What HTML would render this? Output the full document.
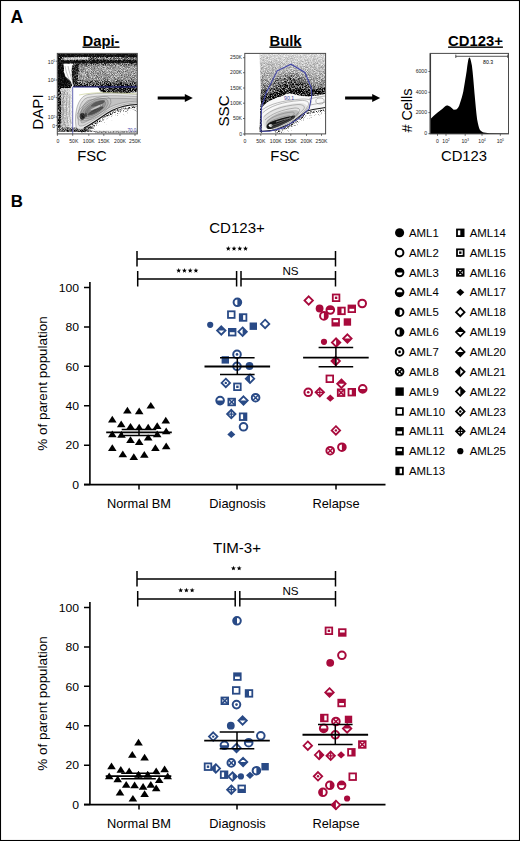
<!DOCTYPE html>
<html><head><meta charset="utf-8"><title>Figure</title>
<style>html,body{margin:0;padding:0;background:#fff;}svg{display:block;}</style>
</head><body>
<svg width="520" height="841" viewBox="0 0 520 841">
<rect x="0" y="0" width="520" height="841" fill="#fff"/>
<defs><clipPath id="clipdapi"><rect x="57.4" y="53.4" width="79.9" height="80.5"/></clipPath><clipPath id="clipbulk"><rect x="244.8" y="53.4" width="80.8" height="80.5"/></clipPath><filter id="fdapi" filterUnits="userSpaceOnUse" x="57" y="53" width="81" height="81.5" color-interpolation-filters="sRGB">
<feColorMatrix in="SourceGraphic" type="matrix" values="0 0 0 0 0  0 0 0 0 0  0 0 0 0 0  -1 0 0 0 1" result="d0"/>
<feGaussianBlur in="d0" stdDeviation="0.6" result="d"/>
<feTurbulence type="fractalNoise" baseFrequency="1.3" numOctaves="2" seed="4" result="n"/>
<feColorMatrix in="n" type="matrix" values="0 0 0 0 0  0 0 0 0 0  0 0 0 0 0  2 0 0 0 -0.5" result="na"/>
<feComposite in="d" in2="na" operator="arithmetic" k1="1.4" k2="0.3" k3="0" k4="0" result="t"/>
<feColorMatrix in="t" type="matrix" values="0 0 0 0 0  0 0 0 0 0  0 0 0 0 0  0 0 0 1 0" result="t2"/>
<feGaussianBlur in="t2" stdDeviation="0.5"/>
</filter><filter id="fdapit" filterUnits="userSpaceOnUse" x="57" y="53" width="81" height="81.5" color-interpolation-filters="sRGB">
<feColorMatrix in="SourceGraphic" type="matrix" values="0 0 0 0 0  0 0 0 0 0  0 0 0 0 0  -1 0 0 0 1" result="d0"/>
<feGaussianBlur in="d0" stdDeviation="0.6" result="d"/>
<feTurbulence type="fractalNoise" baseFrequency="1.3" numOctaves="2" seed="9" result="n"/>
<feColorMatrix in="n" type="matrix" values="0 0 0 0 0  0 0 0 0 0  0 0 0 0 0  2 0 0 0 -0.5" result="na"/>
<feComposite in="d" in2="na" operator="arithmetic" k1="0" k2="1.6" k3="-1.2" k4="-0.1" result="t"/>
<feColorMatrix in="t" type="matrix" values="0 0 0 0 0  0 0 0 0 0  0 0 0 0 0  0 0 0 1 0" result="t2"/>
<feGaussianBlur in="t2" stdDeviation="0.6"/>
</filter><filter id="fbulk" filterUnits="userSpaceOnUse" x="244.5" y="53" width="81.5" height="81.5" color-interpolation-filters="sRGB">
<feColorMatrix in="SourceGraphic" type="matrix" values="0 0 0 0 0  0 0 0 0 0  0 0 0 0 0  -1 0 0 0 1" result="d0"/>
<feGaussianBlur in="d0" stdDeviation="0.6" result="d"/>
<feTurbulence type="fractalNoise" baseFrequency="1.3" numOctaves="2" seed="7" result="n"/>
<feColorMatrix in="n" type="matrix" values="0 0 0 0 0  0 0 0 0 0  0 0 0 0 0  2 0 0 0 -0.5" result="na"/>
<feComposite in="d" in2="na" operator="arithmetic" k1="1.4" k2="0.3" k3="0" k4="0" result="t"/>
<feColorMatrix in="t" type="matrix" values="0 0 0 0 0  0 0 0 0 0  0 0 0 0 0  0 0 0 1 0" result="t2"/>
<feGaussianBlur in="t2" stdDeviation="0.5"/>
</filter><filter id="fbulkt" filterUnits="userSpaceOnUse" x="244.5" y="53" width="81.5" height="81.5" color-interpolation-filters="sRGB">
<feColorMatrix in="SourceGraphic" type="matrix" values="0 0 0 0 0  0 0 0 0 0  0 0 0 0 0  -1 0 0 0 1" result="d0"/>
<feGaussianBlur in="d0" stdDeviation="0.6" result="d"/>
<feTurbulence type="fractalNoise" baseFrequency="1.3" numOctaves="2" seed="11" result="n"/>
<feColorMatrix in="n" type="matrix" values="0 0 0 0 0  0 0 0 0 0  0 0 0 0 0  2 0 0 0 -0.5" result="na"/>
<feComposite in="d" in2="na" operator="arithmetic" k1="0" k2="1.6" k3="-1.2" k4="-0.1" result="t"/>
<feColorMatrix in="t" type="matrix" values="0 0 0 0 0  0 0 0 0 0  0 0 0 0 0  0 0 0 1 0" result="t2"/>
<feGaussianBlur in="t2" stdDeviation="0.6"/>
</filter><filter id="soft" x="-10%" y="-10%" width="120%" height="120%"><feGaussianBlur stdDeviation="0.75"/></filter><linearGradient id="dapiblk" x1="0" y1="0" x2="0" y2="1"><stop offset="0" stop-color="#666"/><stop offset="0.15" stop-color="#a0a0a0"/><stop offset="0.65" stop-color="#989898"/><stop offset="0.85" stop-color="#5a5a5a"/><stop offset="1" stop-color="#222"/></linearGradient><linearGradient id="dapils" x1="0" y1="0" x2="1" y2="0"><stop offset="0" stop-color="#b4b4b4"/><stop offset="1" stop-color="#f0f0f0"/></linearGradient><linearGradient id="dapifade" x1="0" y1="0" x2="0.25" y2="1"><stop offset="0" stop-color="#222"/><stop offset="0.45" stop-color="#888"/><stop offset="1" stop-color="#f4f4f4"/></linearGradient><linearGradient id="bulkcloud" x1="0" y1="0" x2="0" y2="1"><stop offset="0" stop-color="#d8d8d8"/><stop offset="0.45" stop-color="#a8a8a8"/><stop offset="1" stop-color="#505050"/></linearGradient><radialGradient id="bulkcore"><stop offset="0" stop-color="#1a1a1a" stop-opacity="0.85"/><stop offset="0.6" stop-color="#333" stop-opacity="0.5"/><stop offset="1" stop-color="#555" stop-opacity="0"/></radialGradient><linearGradient id="bulkfade" x1="0" y1="0" x2="0.2" y2="1"><stop offset="0" stop-color="#444"/><stop offset="0.5" stop-color="#aaa"/><stop offset="1" stop-color="#fff"/></linearGradient></defs><g clip-path="url(#clipdapi)"><g filter="url(#fdapi)"><rect x="57.4" y="53.3" width="80.0" height="80.7" fill="#fff"/><rect x="57.4" y="53.6" width="80.0" height="10" fill="#111"/><path d="M62,57.2 L92,56.8 L137.4,57.6 L137.4,60 L92,59.8 L62,60.2 Z" fill="#777"/><path d="M64,57.6 L88,57.2 L88,59.6 L64,59.8 Z" fill="#ccc"/><rect x="74.5" y="63.5" width="62.900000000000006" height="23.5" fill="url(#dapiblk)"/><path d="M74.5,63.5 L79,63.5 L77.5,87 L73,87 Z" fill="#333"/><path d="M57.4,63 L63.5,63 L63.8,72 L65,77 L71,82 L72,86 L70,89 L57.4,89 Z" fill="#111"/><path d="M75,63 L72,66 L71.5,72 L73,86 L75,87 Z" fill="#333"/><rect x="57.4" y="88" width="4" height="44" fill="#333"/><rect x="61" y="88" width="12" height="44" fill="url(#dapils)"/><path d="M57.4,127.5 L95,127.5 L88,130 L100,132 L57.4,132 Z" fill="#666"/><rect x="95" y="130.8" width="42.400000000000006" height="2.4" fill="#aaa"/><path d="M98,87 L137.4,87 L137.4,92 L120,94 L105,94 L100,91 Z" fill="#333"/></g><g filter="url(#fdapit)"><rect x="57.4" y="53.3" width="80.0" height="80.7" fill="#fff"/><path d="M80,139.5 C94,132.5 102,125.5 112,120.0 C120,116.0 130,114.3 139,114.0" fill="none" stroke="#e6e6e6" stroke-width="2.6"/><path d="M80,137 C94,130 102,123 112,117.5 C120,113.5 130,111.8 139,111.5" fill="none" stroke="#c4c4c4" stroke-width="2.6"/><path d="M80,134.6 C94,127.6 102,120.6 112,115.1 C120,111.1 130,109.39999999999999 139,109.1" fill="none" stroke="#9a9a9a" stroke-width="2.6"/><path d="M80,132.3 C94,125.3 102,118.3 112,112.8 C120,108.8 130,107.1 139,106.8" fill="none" stroke="#5a5a5a" stroke-width="2.6"/></g><rect x="57.4" y="54" width="80.0" height="2.8" fill="#111" opacity="0.75"/><rect x="57.4" y="60.4" width="80.0" height="2.8" fill="#111" opacity="0.75"/><path d="M57.4,63 L63.2,63 L63.6,71 L65.5,76.5 L70.5,81 L71.5,85.5 L57.4,86.5 Z" fill="#0a0a0a" opacity="0.75"/><path d="M74.8,63.2 L72.5,67 L72.2,76 L73,85.5 L77,86.5 L78.5,64 Z" fill="#222" opacity="0.5"/><g filter="url(#soft)"><path d="M76,127 C74,112 78,98 86,95 C98,92 120,93 139,94.5 L139,104.5 C128,105 118,107.5 110,112 C100,118 92,125 84,128.5 C80,130 77,129.5 76,127 Z" fill="#e6e6e6"/><path d="M78.5,124.5 C77,112 80,100 87.5,97.5 C99,95 120,95.5 139,96.8 L139,102.8 C128,103 117,105.5 109,110 C100,115.5 92,121.5 85,125 C81.5,126.5 79,126.5 78.5,124.5 Z" fill="#d6d6d6"/><path d="M81,122 C80,112 83,102 89.5,100 C100,97.8 118,98 139,99 L139,101.2 C126,101.2 115,104 107.5,108.5 C99.5,113 92.5,118.5 86.5,121.5 C83.5,123 81.2,123.5 81,122 Z" fill="#c2c2c2"/><ellipse cx="94" cy="108.6" rx="16" ry="7.2" transform="rotate(-30 94 108.6)" fill="#b0b0b0"/><ellipse cx="94" cy="108.6" rx="13" ry="5.6" transform="rotate(-30 94 108.6)" fill="#9a9a9a"/><ellipse cx="94" cy="108.6" rx="10" ry="4.2" transform="rotate(-30 94 108.6)" fill="#858585"/><ellipse cx="98" cy="103.4" rx="7.5" ry="2.0" transform="rotate(-20 98 103.4)" fill="#555"/><ellipse cx="95.5" cy="111" rx="9" ry="1.9" transform="rotate(-27 95.5 111)" fill="#444"/><ellipse cx="96.8" cy="107.2" rx="7" ry="0.9" transform="rotate(-24 96.8 107.2)" fill="#c8c8c8"/><ellipse cx="82.3" cy="116.3" rx="2.6" ry="3.4" fill="#1a1a1a"/><ellipse cx="85.8" cy="115" rx="1.2" ry="2.6" fill="#444"/></g><g fill="none" stroke="#6a6a6a" stroke-width="0.45" opacity="0.9"><path d="M76,127 C74,112 78,98 86,95 C98,92 120,93 139,94.5 L139,104.5 C128,105 118,107.5 110,112 C100,118 92,125 84,128.5 C80,130 77,129.5 76,127 Z"/><path d="M78.5,124.5 C77,112 80,100 87.5,97.5 C99,95 120,95.5 139,96.8 L139,102.8 C128,103 117,105.5 109,110 C100,115.5 92,121.5 85,125 C81.5,126.5 79,126.5 78.5,124.5 Z"/><path d="M81,122 C80,112 83,102 89.5,100 C100,97.8 118,98 139,99 L139,101.2 C126,101.2 115,104 107.5,108.5 C99.5,113 92.5,118.5 86.5,121.5 C83.5,123 81.2,123.5 81,122 Z"/><ellipse cx="94" cy="108.6" rx="19" ry="8.8" transform="rotate(-30 94 108.6)"/><ellipse cx="94" cy="108.6" rx="16" ry="7.2" transform="rotate(-30 94 108.6)"/><ellipse cx="94" cy="108.6" rx="13" ry="5.6" transform="rotate(-30 94 108.6)"/><ellipse cx="94" cy="108.6" rx="10" ry="4.2" transform="rotate(-30 94 108.6)"/><ellipse cx="94" cy="108.6" rx="7.5" ry="3" transform="rotate(-30 94 108.6)"/><path d="M65,66 C66,74 70,80 71,85"/><path d="M68,66 C69,72 71,76 72,80"/><path d="M64.5,92 C62,100 62.5,120 66,128"/><path d="M67.5,92 C66,100 66,118 68.5,126"/><path d="M70,94 C69,104 69,116 71,124"/></g><path d="M84,128 C94,123 102,116 112,110.5 C120,106.5 130,104.8 137.4,104.5" fill="none" stroke="#111" stroke-width="1.1"/><path d="M79,95 C95,91.5 115,92.5 137,94" fill="none" stroke="#cdd39a" stroke-width="0.7"/><path d="M72.7,134 V87 H137.4" fill="none" stroke="#4346a6" stroke-width="0.8"/><path d="M74,86.7 H137.4" fill="none" stroke="#1a1a60" stroke-width="1.1" opacity="0.85"/><text x="127.4" y="131.6" font-size="4.6" fill="#4346a6" font-family="Liberation Sans, sans-serif">70.0</text></g><g clip-path="url(#clipbulk)"><g filter="url(#fbulk)"><rect x="244.8" y="53.4" width="80.80000000000001" height="80.6" fill="#fff"/><path d="M259.5,54 L325.6,54 L325.6,94 L318,95.4 L312,96 L308.8,96.5 L302,96 L296,94.8 L292.6,93.7 L286.8,93.7 L281,96.5 L275,98.5 L269.5,101 L265,104 L261.5,108 Z" fill="url(#bulkcloud)"/><ellipse cx="291" cy="92" rx="26" ry="22" fill="url(#bulkcore)"/><ellipse cx="264" cy="97" rx="4" ry="9" fill="#333" opacity="0.45"/><path d="M261.5,108 L265,104 L269.5,101 L275,98.5 L281,96.5 L286.8,93.7 L292.6,93.7 L296,94.8 L302,96 L308.8,96.5 L312,96 L318,95.4 L325.6,94 L325.6,88 L300,89 L275,92 L261,98 Z" fill="#222"/><path d="M260.5,104 L259.5,131.5 L262,133 L263,106 Z" fill="#333"/></g><g filter="url(#fbulkt)"><rect x="244.8" y="53.4" width="80.80000000000001" height="80.6" fill="#fff"/><path d="M275,139.5 L290,133.5 L300,125.5 L307,120.5 L313,119.0 L327,117.0" fill="none" stroke="#e8e8e8" stroke-width="2.6" stroke-linejoin="round"/><path d="M275,137 L290,131 L300,123 L307,118 L313,116.5 L327,114.5" fill="none" stroke="#c8c8c8" stroke-width="2.6" stroke-linejoin="round"/><path d="M275,134.6 L290,128.6 L300,120.6 L307,115.6 L313,114.1 L327,112.1" fill="none" stroke="#9c9c9c" stroke-width="2.6" stroke-linejoin="round"/><path d="M275,132.3 L290,126.3 L300,118.3 L307,113.3 L313,111.8 L327,109.8" fill="none" stroke="#5a5a5a" stroke-width="2.6" stroke-linejoin="round"/></g><g filter="url(#soft)"><path d="M261.5,108 L265,104 L269.5,101 L275,98.5 L281,96.5 L286.8,93.7 L292.6,93.7 L296,94.8 L302,96 L308.8,96.5 L312,96 L318,95.4 L325.6,94 L325.6,107.5 L313,109.5 L307,111 L300,116 L290,124 L275,130 L262,131 Z" fill="#f8f8f8"/><path d="M263,118 C268,110 280,104 300,103 C306,103 309,106 306,110 C300,118 288,126 272,129 C266,130 262,126 263,118 Z" fill="#e4e4e4"/><path d="M266,122 C272,114 284,110 296,110 C300,111 300,114 296,117 C290,122 280,127 272,128.5 C267,129 265,126 266,122 Z" fill="#bdbdbd"/><path d="M266.5,126.5 C267,123 271,121.5 276,120 C282,118 289,116 294,115.5 C296,115.6 295.5,117.5 293,119 C288,122 280,126 273,128.5 C269,129.8 266.3,129 266.5,126.5 Z" fill="#151515"/><path d="M276,122 C281,120.3 286,118.8 291,117.8" fill="none" stroke="#8a8a8a" stroke-width="0.9"/><ellipse cx="270.6" cy="125.6" rx="1.9" ry="1.4" fill="#fff"/></g><g fill="none" stroke="#6a6a6a" stroke-width="0.5" opacity="0.9"><path d="M262.5,113 C270,106 282,102 300,100.5 C307,100 310,102 308,106 C303,115 290,124 272,130"/><path d="M263.5,117 C270,110 282,106 298,104.5 C304,104.5 306,107 303,110 C297,116 286,124 271,128.5"/><path d="M265,120 C271,114 282,109.5 295,108 C300,108 301,110 298,113 C292,119 282,125 270,127.5"/><path d="M267,121.5 C272,116.5 282,113 292,112 C295,112 295,114 292,116 C287,120 279,124 270,126"/><path d="M262,110 C270,104 282,100.5 302,99 C309,98.8 312,100 311,103 C306,114 292,124 274,131"/><path d="M268.5,123 C273,119.5 282,116.5 289,115.8 C291,115.8 291,117 289,118.5 C285,121 278,124 271,125.5"/><ellipse cx="320" cy="101" rx="4.2" ry="3"/><path d="M309,99 C314,98 320,96.5 325,96"/><path d="M310,105 C316,104 321,103 325.5,102"/></g><path d="M261,131.5 L275,130 L290,124 L300,116 L307,111 L313,109.5 L325.6,107.5" fill="none" stroke="#111" stroke-width="1"/><path d="M260.8,131.3 L261.6,107 L266,93.3 L277.2,70.8 L291,64.2 L304.9,72.5 L311.3,88 L311.8,95.3 L309.2,108.8 L298.8,118.4 L283.3,127.9 L269.4,131.3 Z" fill="none" stroke="#4346a6" stroke-width="1.1"/><text x="284" y="100.3" font-size="5.2" fill="#4346a6" font-family="Liberation Sans, sans-serif">90.1</text></g><path d="M430.2,134 L430.2,119.2 L433.8,115.8 L437.3,112.7 L442.5,108.8 C444.5,107 445.5,105.5 447,105.4 C448.2,105.3 449,106 450,106.5 L453.7,109.7 L456.3,109.4 C458,108.5 459,106.5 459.8,103.7 C461.5,99 462.5,95 463.3,91.5 C465,82 466,75 466.7,70.8 C467.6,64 468.3,58 469.3,57.6 C470.3,57.6 471,61 471.9,65.6 C473,74 473.8,85 474.5,93.3 C475.5,104 476.3,113 477.1,119.2 C478,124 479,128 479.7,129.6 C481,131.5 482.5,132.3 484,132.6 L489.2,133.3 L508.5,133.6 L508.5,134 Z" fill="#000"/><path d="M430.4,53.4 V134" stroke="#111" stroke-width="1.3"/><path d="M455.8,56.3 H507.8 M455.8,54.6 V58 M507.8,54.6 V58" stroke="#111" stroke-width="0.7" fill="none"/><text x="483" y="64.3" font-size="5.2" font-family="Liberation Sans, sans-serif">80.3</text><text x="55.2" y="63.5" text-anchor="end" font-family="Liberation Sans, sans-serif" font-size="5.1" fill="#222">10<tspan dy="-1.6" font-size="3">5</tspan></text><text x="55.2" y="82.3" text-anchor="end" font-family="Liberation Sans, sans-serif" font-size="5.1" fill="#222">10<tspan dy="-1.6" font-size="3">4</tspan></text><text x="55.2" y="99.89999999999999" text-anchor="end" font-family="Liberation Sans, sans-serif" font-size="5.1" fill="#222">10<tspan dy="-1.6" font-size="3">3</tspan></text><text x="55.2" y="119.3" text-anchor="end" font-family="Liberation Sans, sans-serif" font-size="5.1" fill="#222">10<tspan dy="-1.6" font-size="3">2</tspan></text><text x="55.2" y="127.8" text-anchor="end" font-family="Liberation Sans, sans-serif" font-size="5.1" fill="#222">0</text><text x="57.8" y="142.5" text-anchor="middle" font-family="Liberation Sans, sans-serif" font-size="5.1" fill="#222">0</text><text x="73.8" y="142.5" text-anchor="middle" font-family="Liberation Sans, sans-serif" font-size="5.1" fill="#222">50K</text><text x="88.8" y="142.5" text-anchor="middle" font-family="Liberation Sans, sans-serif" font-size="5.1" fill="#222">100K</text><text x="103.8" y="142.5" text-anchor="middle" font-family="Liberation Sans, sans-serif" font-size="5.1" fill="#222">150K</text><text x="120" y="142.5" text-anchor="middle" font-family="Liberation Sans, sans-serif" font-size="5.1" fill="#222">200K</text><text x="135" y="142.5" text-anchor="middle" font-family="Liberation Sans, sans-serif" font-size="5.1" fill="#222">250K</text><text x="242" y="59.400000000000006" text-anchor="end" font-family="Liberation Sans, sans-serif" font-size="5.1" fill="#222">250K</text><text x="242" y="74.4" text-anchor="end" font-family="Liberation Sans, sans-serif" font-size="5.1" fill="#222">200K</text><text x="242" y="89.7" text-anchor="end" font-family="Liberation Sans, sans-serif" font-size="5.1" fill="#222">150K</text><text x="242" y="104.9" text-anchor="end" font-family="Liberation Sans, sans-serif" font-size="5.1" fill="#222">100K</text><text x="242" y="120.2" text-anchor="end" font-family="Liberation Sans, sans-serif" font-size="5.1" fill="#222">50K</text><text x="242" y="135.7" text-anchor="end" font-family="Liberation Sans, sans-serif" font-size="5.1" fill="#222">0</text><text x="244.8" y="142.5" text-anchor="middle" font-family="Liberation Sans, sans-serif" font-size="5.1" fill="#222">0</text><text x="260.8" y="142.5" text-anchor="middle" font-family="Liberation Sans, sans-serif" font-size="5.1" fill="#222">50K</text><text x="275.8" y="142.5" text-anchor="middle" font-family="Liberation Sans, sans-serif" font-size="5.1" fill="#222">100K</text><text x="290.8" y="142.5" text-anchor="middle" font-family="Liberation Sans, sans-serif" font-size="5.1" fill="#222">150K</text><text x="306.5" y="142.5" text-anchor="middle" font-family="Liberation Sans, sans-serif" font-size="5.1" fill="#222">200K</text><text x="321.5" y="142.5" text-anchor="middle" font-family="Liberation Sans, sans-serif" font-size="5.1" fill="#222">250K</text><text x="427" y="73.2" text-anchor="end" font-family="Liberation Sans, sans-serif" font-size="5.1" fill="#222">6000</text><text x="427" y="94.0" text-anchor="end" font-family="Liberation Sans, sans-serif" font-size="5.1" fill="#222">4000</text><text x="427" y="114.3" text-anchor="end" font-family="Liberation Sans, sans-serif" font-size="5.1" fill="#222">2000</text><text x="427" y="135.39999999999998" text-anchor="end" font-family="Liberation Sans, sans-serif" font-size="5.1" fill="#222">0</text><text x="437.5" y="143" text-anchor="middle" font-family="Liberation Sans, sans-serif" font-size="5.1" fill="#222">0</text><text x="446" y="143" text-anchor="middle" font-family="Liberation Sans, sans-serif" font-size="5.1" fill="#222">10<tspan dy="-1.6" font-size="3">2</tspan></text><text x="465.2" y="143" text-anchor="middle" font-family="Liberation Sans, sans-serif" font-size="5.1" fill="#222">10<tspan dy="-1.6" font-size="3">3</tspan></text><text x="482" y="143" text-anchor="middle" font-family="Liberation Sans, sans-serif" font-size="5.1" fill="#222">10<tspan dy="-1.6" font-size="3">4</tspan></text><text x="500.3" y="143" text-anchor="middle" font-family="Liberation Sans, sans-serif" font-size="5.1" fill="#222">10<tspan dy="-1.6" font-size="3">5</tspan></text><path d="M55.8,61.2 H57.4 M55.8,80 H57.4 M55.8,97.6 H57.4 M55.8,117 H57.4 M55.8,125.5 H57.4 M57.4,134 V135.8 M72.7,134 V135.8 M88.8,134 V135.8 M103.8,134 V135.8 M120,134 V135.8 M135,134 V135.8 M243,57.7 H244.8 M243,72.7 H244.8 M243,88 H244.8 M243,103.2 H244.8 M243,118.5 H244.8 M243,134 H244.8 M244.8,134 V135.8 M260.8,134 V135.8 M275.8,134 V135.8 M290.8,134 V135.8 M306.5,134 V135.8 M321.5,134 V135.8 M428.4,71.5 H430.2 M428.4,92.3 H430.2 M428.4,112.6 H430.2 M428.4,133.7 H430.2 M437.5,134 V135.8 M446,134 V135.8 M465.2,134 V135.8 M482,134 V135.8 M500.3,134 V135.8" stroke="#000" stroke-width="0.6"/><g font-family="Liberation Sans, sans-serif"><text transform="translate(10.60,23.00)" font-size="17.6" font-weight="bold">A</text><text transform="translate(10.80,207.00) scale(0.97,1)" font-size="17.4" font-weight="bold">B</text><text transform="translate(101.00,45.50) scale(1.06,1)" font-size="14" text-anchor="middle" font-weight="bold" text-decoration="underline">Dapi-</text><text transform="translate(285.50,45.50) scale(1.06,1)" font-size="14" text-anchor="middle" font-weight="bold" text-decoration="underline">Bulk</text><text transform="translate(475.50,45.50) scale(1.06,1)" font-size="14" text-anchor="middle" font-weight="bold" text-decoration="underline">CD123+</text><rect x="57.3" y="53.4" width="80.00000000000001" height="80.5" fill="none" stroke="#4a4a4a" stroke-width="1"/><rect x="244.8" y="53.4" width="80.80000000000001" height="80.5" fill="none" stroke="#4a4a4a" stroke-width="1"/><rect x="430.2" y="53.4" width="78.30000000000001" height="80.5" fill="none" stroke="#4a4a4a" stroke-width="1"/><path d="M157.7,98 H186.8" stroke="#000" stroke-width="3"/><path d="M184.8,94 L192.8,98 L184.8,102 Z" fill="#000"/><path d="M345.1,98 H374.2" stroke="#000" stroke-width="3"/><path d="M372.2,94 L380.2,98 L372.2,102 Z" fill="#000"/><text transform="translate(92.00,160.50) scale(1.06,1)" font-size="14" text-anchor="middle">FSC</text><text transform="translate(285.00,160.50) scale(1.06,1)" font-size="14" text-anchor="middle">FSC</text><text transform="translate(464.00,160.80) scale(1.06,1)" font-size="14" text-anchor="middle">CD123</text><text transform="translate(43.00,112.00) rotate(-90) scale(1.08,1)" font-size="14" text-anchor="middle">DAPI</text><text transform="translate(229.00,111.00) rotate(-90) scale(1.08,1)" font-size="14" text-anchor="middle">SSC</text><text transform="translate(411.50,110.60) rotate(-90) scale(1.03,1)" font-size="14" text-anchor="middle"># Cells</text></g>
<g font-family="Liberation Sans, sans-serif"><text transform="translate(237.00,232.60) scale(1.075,1)" font-size="14" text-anchor="middle">CD123+</text><g stroke="#000" stroke-width="1.5" fill="none"><path d="M137,259.1 H335.5 M137,251 V266.5 M335.5,251 V266.5"/><path d="M137.7,278.9 H236 M241,278.9 H335.5 M137.7,271 V286.5 M335.5,271 V286.5 M236.6,271 V286.5 M241,271 V286.5"/></g><polygon points="228.28,246.05 228.92,247.71 230.70,247.81 229.32,248.94 229.77,250.66 228.28,249.70 226.78,250.66 227.23,248.94 225.85,247.81 227.63,247.71" fill="#000"/><polygon points="234.03,246.05 234.67,247.71 236.45,247.81 235.07,248.94 235.52,250.66 234.03,249.70 232.53,250.66 232.98,248.94 231.60,247.81 233.38,247.71" fill="#000"/><polygon points="239.78,246.05 240.42,247.71 242.20,247.81 240.82,248.94 241.27,250.66 239.78,249.70 238.28,250.66 238.73,248.94 237.35,247.81 239.13,247.71" fill="#000"/><polygon points="245.53,246.05 246.17,247.71 247.95,247.81 246.57,248.94 247.02,250.66 245.53,249.70 244.03,250.66 244.48,248.94 243.10,247.81 244.88,247.71" fill="#000"/><polygon points="178.68,268.05 179.32,269.71 181.10,269.81 179.72,270.94 180.17,272.66 178.68,271.70 177.18,272.66 177.63,270.94 176.25,269.81 178.03,269.71" fill="#000"/><polygon points="184.43,268.05 185.07,269.71 186.85,269.81 185.47,270.94 185.92,272.66 184.43,271.70 182.93,272.66 183.38,270.94 182.00,269.81 183.78,269.71" fill="#000"/><polygon points="190.18,268.05 190.82,269.71 192.60,269.81 191.22,270.94 191.67,272.66 190.18,271.70 188.68,272.66 189.13,270.94 187.75,269.81 189.53,269.71" fill="#000"/><polygon points="195.93,268.05 196.57,269.71 198.35,269.81 196.97,270.94 197.42,272.66 195.93,271.70 194.43,272.66 194.88,270.94 193.50,269.81 195.28,269.71" fill="#000"/><text transform="translate(290.50,274.80) scale(1.06,1)" font-size="11" text-anchor="middle">NS</text><path d="M89.9,282 V484.6 M84,484.6 H385.5" stroke="#000" stroke-width="1.6" fill="none"/><text transform="translate(79.00,488.90) scale(1.06,1)" font-size="11.5" text-anchor="end">0</text><text transform="translate(79.00,449.48) scale(1.06,1)" font-size="11.5" text-anchor="end">20</text><text transform="translate(79.00,410.06) scale(1.06,1)" font-size="11.5" text-anchor="end">40</text><text transform="translate(79.00,370.64) scale(1.06,1)" font-size="11.5" text-anchor="end">60</text><text transform="translate(79.00,331.22) scale(1.06,1)" font-size="11.5" text-anchor="end">80</text><text transform="translate(79.00,291.80) scale(1.06,1)" font-size="11.5" text-anchor="end">100</text><path d="M84,484.60 H90 M84,445.18 H90 M84,405.76 H90 M84,366.34 H90 M84,326.92 H90 M84,287.50 H90 M139,484.6 V489.5 M237,484.6 V489.5 M336,484.6 V489.5" stroke="#000" stroke-width="1.5"/><text transform="translate(139.00,507.80) scale(1.07,1)" font-size="12" text-anchor="middle">Normal BM</text><text transform="translate(237.50,507.80) scale(1.07,1)" font-size="12" text-anchor="middle">Diagnosis</text><text transform="translate(336.00,507.80) scale(1.07,1)" font-size="12" text-anchor="middle">Relapse</text><text transform="translate(46.50,383.50) rotate(-90) scale(1.05,1)" font-size="12.8" text-anchor="middle">% of parent population</text><path d="M150.8,401.9 L155.10000000000002,408.6 L146.5,408.6 Z" fill="#000"/><path d="M127.4,406.79999999999995 L131.70000000000002,413.5 L123.10000000000001,413.5 Z" fill="#000"/><path d="M139.2,407.59999999999997 L143.5,414.3 L134.89999999999998,414.3 Z" fill="#000"/><path d="M112.3,415.7 L116.6,422.40000000000003 L108.0,422.40000000000003 Z" fill="#000"/><path d="M165.8,416.79999999999995 L170.10000000000002,423.5 L161.5,423.5 Z" fill="#000"/><path d="M121.2,420.59999999999997 L125.5,427.3 L116.9,427.3 Z" fill="#000"/><path d="M130.5,422.9 L134.8,429.6 L126.2,429.6 Z" fill="#000"/><path d="M139.2,423.7 L143.5,430.40000000000003 L134.89999999999998,430.40000000000003 Z" fill="#000"/><path d="M148.2,423.7 L152.5,430.40000000000003 L143.89999999999998,430.40000000000003 Z" fill="#000"/><path d="M157.2,422.2 L161.5,428.90000000000003 L152.89999999999998,428.90000000000003 Z" fill="#000"/><path d="M166.2,427.59999999999997 L170.5,434.3 L161.89999999999998,434.3 Z" fill="#000"/><path d="M112.3,430.59999999999997 L116.6,437.3 L108.0,437.3 Z" fill="#000"/><path d="M121.5,431.09999999999997 L125.8,437.8 L117.2,437.8 Z" fill="#000"/><path d="M157.2,430.59999999999997 L161.5,437.3 L152.89999999999998,437.3 Z" fill="#000"/><path d="M130.5,436.29999999999995 L134.8,443.0 L126.2,443.0 Z" fill="#000"/><path d="M148.2,433.7 L152.5,440.40000000000003 L143.89999999999998,440.40000000000003 Z" fill="#000"/><path d="M139.2,438.29999999999995 L143.5,445.0 L134.89999999999998,445.0 Z" fill="#000"/><path d="M112.3,444.2 L116.6,450.90000000000003 L108.0,450.90000000000003 Z" fill="#000"/><path d="M155.4,444.2 L159.70000000000002,450.90000000000003 L151.1,450.90000000000003 Z" fill="#000"/><path d="M166.2,442.59999999999997 L170.5,449.3 L161.89999999999998,449.3 Z" fill="#000"/><path d="M122.8,450.59999999999997 L127.1,457.3 L118.5,457.3 Z" fill="#000"/><path d="M133.8,453.2 L138.10000000000002,459.90000000000003 L129.5,459.90000000000003 Z" fill="#000"/><path d="M144.3,451.09999999999997 L148.60000000000002,457.8 L140.0,457.8 Z" fill="#000"/><circle cx="237.4" cy="302.3" r="3.8" fill="#fff" stroke="#294a86" stroke-width="2.0"/><path d="M237.4,298.5 A3.8,3.8 0 0 1 237.4,306.1 Z" fill="#294a86"/><rect x="228.0" y="311.3" width="6.6000000000000005" height="6.6000000000000005" fill="#fff" stroke="#294a86" stroke-width="1.8"/><rect x="239.79999999999998" y="314.2" width="6.6000000000000005" height="6.6000000000000005" fill="#fff" stroke="#294a86" stroke-width="1.8"/><rect x="239.79999999999998" y="314.2" width="3.3000000000000003" height="6.6000000000000005" fill="#294a86"/><circle cx="210.2" cy="324.8" r="3.1" fill="#294a86"/><path d="M221.3,326.2726 L225.5274,330.5 L221.3,334.7274 L217.07260000000002,330.5 Z" fill="#fff" stroke="#294a86" stroke-width="1.8" stroke-linejoin="miter"/><path d="M221.3,326.2726 L225.5274,330.5 L217.07260000000002,330.5 Z" fill="#294a86"/><rect x="228.89999999999998" y="328.9" width="6.6000000000000005" height="6.6000000000000005" fill="#fff" stroke="#294a86" stroke-width="1.8"/><rect x="228.89999999999998" y="328.9" width="6.6000000000000005" height="3.3000000000000003" fill="#294a86"/><path d="M242.6,327.4726 L246.82739999999998,331.7 L242.6,335.9274 L238.3726,331.7 Z" fill="#fff" stroke="#294a86" stroke-width="1.8" stroke-linejoin="miter"/><path d="M242.6,327.4726 L246.82739999999998,331.7 L242.6,335.9274 Z" fill="#294a86"/><rect x="249.60000000000002" y="322.5" width="7.4" height="7.4" fill="#294a86"/><path d="M265.1,319.6726 L269.3274,323.9 L265.1,328.12739999999997 L260.87260000000003,323.9 Z" fill="#fff" stroke="#294a86" stroke-width="1.8" stroke-linejoin="miter"/><circle cx="237" cy="354.4" r="3.8" fill="#fff" stroke="#294a86" stroke-width="2.0"/><circle cx="237" cy="354.4" r="1.3" fill="#294a86"/><rect x="221.60000000000002" y="356.2" width="7.4" height="7.4" fill="#294a86"/><circle cx="237" cy="366.3" r="3.8" fill="#fff" stroke="#294a86" stroke-width="2.0"/><circle cx="249.5" cy="366" r="3.9" fill="#294a86"/><path d="M225.8,378.6726 L230.0274,382.9 L225.8,387.12739999999997 L221.57260000000002,382.9 Z" fill="#fff" stroke="#294a86" stroke-width="1.8" stroke-linejoin="miter"/><circle cx="225.8" cy="382.9" r="1.2" fill="#294a86"/><path d="M250,374.4726 L254.2274,378.7 L250,382.9274 L245.7726,378.7 Z" fill="#fff" stroke="#294a86" stroke-width="1.8" stroke-linejoin="miter"/><path d="M250,374.4726 L245.7726,378.7 L250,382.9274 Z" fill="#294a86"/><rect x="234.1" y="383.5" width="6.6000000000000005" height="6.6000000000000005" fill="#fff" stroke="#294a86" stroke-width="1.8"/><rect x="236.20000000000002" y="385.6" width="2.4" height="2.4" fill="#294a86"/><circle cx="220.1" cy="400.6" r="3.8" fill="#fff" stroke="#294a86" stroke-width="2.0"/><path d="M216.29999999999998,400.6 A3.8,3.8 0 0 0 223.9,400.6 Z" fill="#294a86"/><rect x="228.39999999999998" y="398.7" width="6.6000000000000005" height="6.6000000000000005" fill="#fff" stroke="#294a86" stroke-width="1.8"/><path d="M228.39999999999998,398.7 L235.0,405.3 M235.0,398.7 L228.39999999999998,405.3" stroke="#294a86" stroke-width="1.6"/><path d="M243.5,396.37260000000003 L247.7274,400.6 L243.5,404.8274 L239.2726,400.6 Z" fill="#fff" stroke="#294a86" stroke-width="1.8" stroke-linejoin="miter"/><path d="M243.5,404.8274 L247.7274,400.6 L239.2726,400.6 Z" fill="#294a86"/><circle cx="255.6" cy="397.7" r="3.8" fill="#fff" stroke="#294a86" stroke-width="2.0"/><path d="M252.864,394.964 L258.336,400.436 M258.336,394.964 L252.864,400.436" stroke="#294a86" stroke-width="1.5"/><path d="M231.3,409.87260000000003 L235.5274,414.1 L231.3,418.3274 L227.07260000000002,414.1 Z" fill="#fff" stroke="#294a86" stroke-width="1.8" stroke-linejoin="miter"/><path d="M231.3,409.87260000000003 L231.3,418.3274 M227.07260000000002,414.1 L235.5274,414.1" stroke="#294a86" stroke-width="1.3"/><rect x="239.79999999999998" y="413.4" width="6.6000000000000005" height="6.6000000000000005" fill="#fff" stroke="#294a86" stroke-width="1.8"/><rect x="243.1" y="413.4" width="3.3000000000000003" height="6.6000000000000005" fill="#294a86"/><circle cx="243.5" cy="426.8" r="3.8" fill="#fff" stroke="#294a86" stroke-width="2.0"/><path d="M231.3,430.75 L235.3,434.4 L231.3,438.04999999999995 L227.3,434.4 Z" fill="#294a86"/><path d="M308.7,296.2726 L312.9274,300.5 L308.7,304.7274 L304.4726,300.5 Z" fill="#fff" stroke="#a80a3c" stroke-width="1.8" stroke-linejoin="miter"/><rect x="332.8" y="294.5" width="6.6000000000000005" height="6.6000000000000005" fill="#fff" stroke="#a80a3c" stroke-width="1.8"/><rect x="334.90000000000003" y="296.6" width="2.4" height="2.4" fill="#a80a3c"/><circle cx="362.2" cy="303.5" r="3.8" fill="#fff" stroke="#a80a3c" stroke-width="2.0"/><circle cx="319.6" cy="308.5" r="3.9" fill="#a80a3c"/><circle cx="330.3" cy="310" r="3.8" fill="#fff" stroke="#a80a3c" stroke-width="2.0"/><path d="M326.5,310 A3.8,3.8 0 0 1 334.1,310 Z" fill="#a80a3c"/><circle cx="323.9" cy="315.9" r="3.8" fill="#fff" stroke="#a80a3c" stroke-width="2.0"/><path d="M323.9,312.09999999999997 A3.8,3.8 0 0 1 323.9,319.7 Z" fill="#a80a3c"/><rect x="338.2" y="307.59999999999997" width="6.6000000000000005" height="6.6000000000000005" fill="#fff" stroke="#a80a3c" stroke-width="1.8"/><rect x="338.2" y="307.59999999999997" width="3.3000000000000003" height="6.6000000000000005" fill="#a80a3c"/><rect x="348.5" y="305.5" width="6.6000000000000005" height="6.6000000000000005" fill="#fff" stroke="#a80a3c" stroke-width="1.8"/><rect x="348.5" y="305.5" width="6.6000000000000005" height="3.3000000000000003" fill="#a80a3c"/><rect x="332.4" y="319.0" width="6.6000000000000005" height="6.6000000000000005" fill="#fff" stroke="#a80a3c" stroke-width="1.8"/><rect x="332.4" y="322.3" width="6.6000000000000005" height="3.3000000000000003" fill="#a80a3c"/><rect x="343.7" y="318.3" width="7.4" height="7.4" fill="#a80a3c"/><circle cx="324" cy="341.8" r="3.1" fill="#a80a3c"/><path d="M336.1,338.2726 L340.3274,342.5 L336.1,346.7274 L331.87260000000003,342.5 Z" fill="#fff" stroke="#a80a3c" stroke-width="1.8" stroke-linejoin="miter"/><path d="M336.1,338.2726 L340.3274,342.5 L336.1,346.7274 Z" fill="#a80a3c"/><path d="M347.4,334.2726 L351.62739999999997,338.5 L347.4,342.7274 L343.1726,338.5 Z" fill="#fff" stroke="#a80a3c" stroke-width="1.8" stroke-linejoin="miter"/><path d="M347.4,342.7274 L351.62739999999997,338.5 L343.1726,338.5 Z" fill="#a80a3c"/><path d="M335.7,356.7726 L339.9274,361 L335.7,365.2274 L331.4726,361 Z" fill="#fff" stroke="#a80a3c" stroke-width="1.8" stroke-linejoin="miter"/><path d="M335.7,356.7726 L331.4726,361 L335.7,365.2274 Z" fill="#a80a3c"/><rect x="326.5" y="375.5" width="6.6000000000000005" height="6.6000000000000005" fill="#fff" stroke="#a80a3c" stroke-width="1.8"/><path d="M341.4,379.4726 L345.62739999999997,383.7 L341.4,387.9274 L337.1726,383.7 Z" fill="#fff" stroke="#a80a3c" stroke-width="1.8" stroke-linejoin="miter"/><path d="M341.4,379.4726 L345.62739999999997,383.7 L337.1726,383.7 Z" fill="#a80a3c"/><circle cx="308.2" cy="392.3" r="3.8" fill="#fff" stroke="#a80a3c" stroke-width="2.0"/><circle cx="308.2" cy="392.3" r="1.3" fill="#a80a3c"/><path d="M319.8,388.0726 L324.0274,392.3 L319.8,396.5274 L315.5726,392.3 Z" fill="#fff" stroke="#a80a3c" stroke-width="1.8" stroke-linejoin="miter"/><path d="M319.8,388.0726 L319.8,396.5274 M315.5726,392.3 L324.0274,392.3" stroke="#a80a3c" stroke-width="1.3"/><path d="M330.3,394.55 L334.3,398.2 L330.3,401.84999999999997 L326.3,398.2 Z" fill="#a80a3c"/><rect x="337.8" y="389.4" width="6.6000000000000005" height="6.6000000000000005" fill="#fff" stroke="#a80a3c" stroke-width="1.8"/><path d="M337.8,389.4 L344.40000000000003,396.0 M344.40000000000003,389.4 L337.8,396.0" stroke="#a80a3c" stroke-width="1.6"/><rect x="348.5" y="388.9" width="6.6000000000000005" height="6.6000000000000005" fill="#fff" stroke="#a80a3c" stroke-width="1.8"/><rect x="351.8" y="388.9" width="3.3000000000000003" height="6.6000000000000005" fill="#a80a3c"/><circle cx="362.7" cy="388.9" r="3.8" fill="#fff" stroke="#a80a3c" stroke-width="2.0"/><path d="M358.9,388.9 A3.8,3.8 0 0 0 366.5,388.9 Z" fill="#a80a3c"/><path d="M335.9,426.1726 L340.12739999999997,430.4 L335.9,434.62739999999997 L331.6726,430.4 Z" fill="#fff" stroke="#a80a3c" stroke-width="1.8" stroke-linejoin="miter"/><circle cx="335.9" cy="430.4" r="1.2" fill="#a80a3c"/><circle cx="341.9" cy="447.2" r="3.8" fill="#fff" stroke="#a80a3c" stroke-width="2.0"/><path d="M341.9,443.4 A3.8,3.8 0 0 1 341.9,451.0 Z" fill="#a80a3c"/><circle cx="330.2" cy="450.7" r="3.8" fill="#fff" stroke="#a80a3c" stroke-width="2.0"/><path d="M327.464,447.964 L332.936,453.436 M332.936,447.964 L327.464,453.436" stroke="#a80a3c" stroke-width="1.5"/><rect x="123" y="430.09999999999997" width="32" height="4.6" fill="#fff"/><path d="M121.7,429.4 H156.3 M121.7,435.4 H156.3 M139,429.4 V435.4" stroke="#000" stroke-width="1.5" fill="none"/><path d="M106.2,432.4 H171.8" stroke="#000" stroke-width="1.9" fill="none"/><path d="M220.0,357.8 H254.60000000000002 M220.0,374.6 H254.60000000000002 M237.3,357.8 V374.6" stroke="#000" stroke-width="1.5" fill="none"/><path d="M204.5,366.5 H270.1" stroke="#000" stroke-width="1.9" fill="none"/><path d="M318.59999999999997,347.6 H353.2 M318.59999999999997,366.7 H353.2 M335.9,347.6 V366.7" stroke="#000" stroke-width="1.5" fill="none"/><path d="M303.09999999999997,357.6 H368.7" stroke="#000" stroke-width="1.9" fill="none"/></g>
<g font-family="Liberation Sans, sans-serif"><text transform="translate(237.00,552.60) scale(1.075,1)" font-size="14" text-anchor="middle">TIM-3+</text><g stroke="#000" stroke-width="1.5" fill="none"><path d="M137,579.1 H335.5 M137,571 V586.5 M335.5,571 V586.5"/><path d="M137.7,598.9 H234.7 M239.7,598.9 H335.5 M137.7,591 V606.5 M335.5,591 V606.5 M235.2,591 V606.5 M239.8,591 V606.5"/></g><polygon points="233.43,565.75 234.07,567.41 235.85,567.51 234.47,568.64 234.92,570.36 233.43,569.40 231.93,570.36 232.38,568.64 231.00,567.51 232.78,567.41" fill="#000"/><polygon points="239.18,565.75 239.82,567.41 241.60,567.51 240.22,568.64 240.67,570.36 239.18,569.40 237.68,570.36 238.13,568.64 236.75,567.51 238.53,567.41" fill="#000"/><polygon points="180.65,587.75 181.30,589.41 183.08,589.51 181.70,590.64 182.15,592.36 180.65,591.40 179.15,592.36 179.60,590.64 178.22,589.51 180.00,589.41" fill="#000"/><polygon points="186.40,587.75 187.05,589.41 188.83,589.51 187.45,590.64 187.90,592.36 186.40,591.40 184.90,592.36 185.35,590.64 183.97,589.51 185.75,589.41" fill="#000"/><polygon points="192.15,587.75 192.80,589.41 194.58,589.51 193.20,590.64 193.65,592.36 192.15,591.40 190.65,592.36 191.10,590.64 189.72,589.51 191.50,589.41" fill="#000"/><text transform="translate(290.50,594.80) scale(1.06,1)" font-size="11" text-anchor="middle">NS</text><path d="M89.9,602 V804.6 M84,804.6 H385.5" stroke="#000" stroke-width="1.6" fill="none"/><text transform="translate(79.00,808.90) scale(1.06,1)" font-size="11.5" text-anchor="end">0</text><text transform="translate(79.00,769.48) scale(1.06,1)" font-size="11.5" text-anchor="end">20</text><text transform="translate(79.00,730.06) scale(1.06,1)" font-size="11.5" text-anchor="end">40</text><text transform="translate(79.00,690.64) scale(1.06,1)" font-size="11.5" text-anchor="end">60</text><text transform="translate(79.00,651.22) scale(1.06,1)" font-size="11.5" text-anchor="end">80</text><text transform="translate(79.00,611.80) scale(1.06,1)" font-size="11.5" text-anchor="end">100</text><path d="M84,804.60 H90 M84,765.18 H90 M84,725.76 H90 M84,686.34 H90 M84,646.92 H90 M84,607.50 H90 M139,804.6 V809.5 M237,804.6 V809.5 M336,804.6 V809.5" stroke="#000" stroke-width="1.5"/><text transform="translate(139.00,827.80) scale(1.07,1)" font-size="12" text-anchor="middle">Normal BM</text><text transform="translate(237.50,827.80) scale(1.07,1)" font-size="12" text-anchor="middle">Diagnosis</text><text transform="translate(336.00,827.80) scale(1.07,1)" font-size="12" text-anchor="middle">Relapse</text><text transform="translate(46.50,703.50) rotate(-90) scale(1.05,1)" font-size="12.8" text-anchor="middle">% of parent population</text><path d="M138.5,738.6999999999999 L142.8,745.4 L134.2,745.4 Z" fill="#000"/><path d="M132.3,751.0 L136.60000000000002,757.7 L128.0,757.7 Z" fill="#000"/><path d="M144.6,753.8 L148.9,760.5 L140.29999999999998,760.5 Z" fill="#000"/><path d="M111.5,762.6 L115.8,769.3000000000001 L107.2,769.3000000000001 Z" fill="#000"/><path d="M120.8,766.1 L125.1,772.8000000000001 L116.5,772.8000000000001 Z" fill="#000"/><path d="M129.2,767.6 L133.5,774.3000000000001 L124.89999999999999,774.3000000000001 Z" fill="#000"/><path d="M156.2,767.6 L160.5,774.3000000000001 L151.89999999999998,774.3000000000001 Z" fill="#000"/><path d="M164.6,765.6 L168.9,772.3000000000001 L160.29999999999998,772.3000000000001 Z" fill="#000"/><path d="M109.2,772.6 L113.5,779.3000000000001 L104.9,779.3000000000001 Z" fill="#000"/><path d="M138.5,771.0 L142.8,777.7 L134.2,777.7 Z" fill="#000"/><path d="M147.7,771.0 L152.0,777.7 L143.39999999999998,777.7 Z" fill="#000"/><path d="M167.7,772.6 L172.0,779.3000000000001 L163.39999999999998,779.3000000000001 Z" fill="#000"/><path d="M117.7,775.6 L122.0,782.3000000000001 L113.4,782.3000000000001 Z" fill="#000"/><path d="M159.2,776.4 L163.5,783.1 L154.89999999999998,783.1 Z" fill="#000"/><path d="M126.2,781.0 L130.5,787.7 L121.9,787.7 Z" fill="#000"/><path d="M134.6,781.5 L138.9,788.2 L130.29999999999998,788.2 Z" fill="#000"/><path d="M143.1,783.0 L147.4,789.7 L138.79999999999998,789.7 Z" fill="#000"/><path d="M150.8,781.0 L155.10000000000002,787.7 L146.5,787.7 Z" fill="#000"/><path d="M156.2,784.6 L160.5,791.3000000000001 L151.89999999999998,791.3000000000001 Z" fill="#000"/><path d="M120,788.6999999999999 L124.3,795.4 L115.7,795.4 Z" fill="#000"/><path d="M144.6,790.1999999999999 L148.9,796.9 L140.29999999999998,796.9 Z" fill="#000"/><path d="M132.9,794.9 L137.20000000000002,801.6 L128.6,801.6 Z" fill="#000"/><circle cx="237" cy="620.8" r="3.8" fill="#fff" stroke="#294a86" stroke-width="2.0"/><path d="M237,617.0 A3.8,3.8 0 0 0 237,624.5999999999999 Z" fill="#294a86"/><rect x="234.1" y="673.3000000000001" width="6.6000000000000005" height="6.6000000000000005" fill="#fff" stroke="#294a86" stroke-width="1.8"/><rect x="234.1" y="673.3000000000001" width="6.6000000000000005" height="3.3000000000000003" fill="#294a86"/><rect x="232.89999999999998" y="687.1" width="6.6000000000000005" height="6.6000000000000005" fill="#fff" stroke="#294a86" stroke-width="1.8"/><rect x="245.7" y="690.1" width="6.6000000000000005" height="6.6000000000000005" fill="#fff" stroke="#294a86" stroke-width="1.8"/><rect x="245.7" y="690.1" width="3.3000000000000003" height="6.6000000000000005" fill="#294a86"/><rect x="221.5" y="697.5" width="6.6000000000000005" height="6.6000000000000005" fill="#fff" stroke="#294a86" stroke-width="1.8"/><path d="M221.5,697.5 L228.10000000000002,704.0999999999999 M228.10000000000002,697.5 L221.5,704.0999999999999" stroke="#294a86" stroke-width="1.6"/><circle cx="236.5" cy="704.6" r="3.8" fill="#fff" stroke="#294a86" stroke-width="2.0"/><circle cx="236.5" cy="704.6" r="1.3" fill="#294a86"/><path d="M242.6,716.2726 L246.82739999999998,720.5 L242.6,724.7274 L238.3726,720.5 Z" fill="#fff" stroke="#294a86" stroke-width="1.8" stroke-linejoin="miter"/><path d="M242.6,716.2726 L246.82739999999998,720.5 L238.3726,720.5 Z" fill="#294a86"/><circle cx="230.8" cy="725.7" r="3.9" fill="#294a86"/><path d="M213.2,732.3726 L217.42739999999998,736.6 L213.2,740.8274 L208.9726,736.6 Z" fill="#fff" stroke="#294a86" stroke-width="1.8" stroke-linejoin="miter"/><circle cx="213.2" cy="736.6" r="1.2" fill="#294a86"/><circle cx="260.8" cy="735.8" r="3.8" fill="#fff" stroke="#294a86" stroke-width="2.0"/><circle cx="224.4" cy="745.3" r="3.8" fill="#fff" stroke="#294a86" stroke-width="2.0"/><path d="M220.6,745.3 A3.8,3.8 0 0 0 228.20000000000002,745.3 Z" fill="#294a86"/><path d="M236.5,743.6726 L240.7274,747.9 L236.5,752.1274 L232.2726,747.9 Z" fill="#fff" stroke="#294a86" stroke-width="1.8" stroke-linejoin="miter"/><path d="M236.5,752.1274 L240.7274,747.9 L232.2726,747.9 Z" fill="#294a86"/><circle cx="248.7" cy="742.7" r="3.8" fill="#fff" stroke="#294a86" stroke-width="2.0"/><path d="M244.89999999999998,742.7 A3.8,3.8 0 0 1 252.5,742.7 Z" fill="#294a86"/><circle cx="231.3" cy="762.9" r="3.8" fill="#fff" stroke="#294a86" stroke-width="2.0"/><path d="M228.56400000000002,760.164 L234.036,765.636 M234.036,760.164 L228.56400000000002,765.636" stroke="#294a86" stroke-width="1.5"/><path d="M243.1,757.7726 L247.32739999999998,762 L243.1,766.2274 L238.8726,762 Z" fill="#fff" stroke="#294a86" stroke-width="1.8" stroke-linejoin="miter"/><path d="M243.1,766.2274 L247.32739999999998,762 L238.8726,762 Z" fill="#294a86"/><rect x="204.7" y="763.4000000000001" width="6.6000000000000005" height="6.6000000000000005" fill="#fff" stroke="#294a86" stroke-width="1.8"/><rect x="206.8" y="765.5" width="2.4" height="2.4" fill="#294a86"/><path d="M215.8,764.1726 L220.0274,768.4 L215.8,772.6274 L211.57260000000002,768.4 Z" fill="#fff" stroke="#294a86" stroke-width="1.8" stroke-linejoin="miter"/><path d="M215.8,764.1726 L211.57260000000002,768.4 L215.8,772.6274 Z" fill="#294a86"/><rect x="220.79999999999998" y="771.4000000000001" width="6.6000000000000005" height="6.6000000000000005" fill="#fff" stroke="#294a86" stroke-width="1.8"/><rect x="224.1" y="771.4000000000001" width="3.3000000000000003" height="6.6000000000000005" fill="#294a86"/><path d="M232.6,772.3726 L236.82739999999998,776.6 L232.6,780.8274 L228.3726,776.6 Z" fill="#fff" stroke="#294a86" stroke-width="1.8" stroke-linejoin="miter"/><path d="M232.6,772.3726 L236.82739999999998,776.6 L232.6,780.8274 Z" fill="#294a86"/><circle cx="240.9" cy="776.4" r="3.1" fill="#294a86"/><path d="M250,771.65 L254.0,775.3 L250,778.9499999999999 L246.0,775.3 Z" fill="#294a86"/><circle cx="256.4" cy="770.7" r="3.8" fill="#fff" stroke="#294a86" stroke-width="2.0"/><path d="M256.4,766.9000000000001 A3.8,3.8 0 0 1 256.4,774.5 Z" fill="#294a86"/><rect x="261.40000000000003" y="763.0" width="7.4" height="7.4" fill="#294a86"/><path d="M231.3,785.4726 L235.5274,789.7 L231.3,793.9274 L227.07260000000002,789.7 Z" fill="#fff" stroke="#294a86" stroke-width="1.8" stroke-linejoin="miter"/><path d="M231.3,785.4726 L231.3,793.9274 M227.07260000000002,789.7 L235.5274,789.7" stroke="#294a86" stroke-width="1.3"/><rect x="238.39999999999998" y="785.5" width="6.6000000000000005" height="6.6000000000000005" fill="#fff" stroke="#294a86" stroke-width="1.8"/><rect x="238.39999999999998" y="788.8" width="6.6000000000000005" height="3.3000000000000003" fill="#294a86"/><rect x="325.59999999999997" y="627.5" width="6.6000000000000005" height="6.6000000000000005" fill="#fff" stroke="#a80a3c" stroke-width="1.8"/><rect x="327.7" y="629.5999999999999" width="2.4" height="2.4" fill="#a80a3c"/><rect x="339.0" y="629.2" width="6.6000000000000005" height="6.6000000000000005" fill="#fff" stroke="#a80a3c" stroke-width="1.8"/><rect x="339.0" y="632.5" width="6.6000000000000005" height="3.3000000000000003" fill="#a80a3c"/><circle cx="341.9" cy="655.3" r="3.8" fill="#fff" stroke="#a80a3c" stroke-width="2.0"/><circle cx="330.2" cy="662.8" r="3.9" fill="#a80a3c"/><path d="M329.5,688.1726 L333.7274,692.4 L329.5,696.6274 L325.2726,692.4 Z" fill="#fff" stroke="#a80a3c" stroke-width="1.8" stroke-linejoin="miter"/><path d="M329.5,696.6274 L333.7274,692.4 L325.2726,692.4 Z" fill="#a80a3c"/><rect x="338.3" y="699.7" width="6.6000000000000005" height="6.6000000000000005" fill="#fff" stroke="#a80a3c" stroke-width="1.8"/><rect x="338.3" y="699.7" width="6.6000000000000005" height="3.3000000000000003" fill="#a80a3c"/><rect x="321.0" y="714.7" width="6.6000000000000005" height="6.6000000000000005" fill="#fff" stroke="#a80a3c" stroke-width="1.8"/><rect x="321.0" y="714.7" width="3.3000000000000003" height="6.6000000000000005" fill="#a80a3c"/><circle cx="335.9" cy="721.5" r="3.8" fill="#fff" stroke="#a80a3c" stroke-width="2.0"/><path d="M333.164,718.764 L338.63599999999997,724.236 M338.63599999999997,718.764 L333.164,724.236" stroke="#a80a3c" stroke-width="1.5"/><rect x="344.8" y="715.6999999999999" width="7.4" height="7.4" fill="#a80a3c"/><circle cx="323.7" cy="728.4" r="3.8" fill="#fff" stroke="#a80a3c" stroke-width="2.0"/><path d="M319.9,728.4 A3.8,3.8 0 0 0 327.5,728.4 Z" fill="#a80a3c"/><path d="M347.1,724.1726 L351.3274,728.4 L347.1,732.6274 L342.87260000000003,728.4 Z" fill="#fff" stroke="#a80a3c" stroke-width="1.8" stroke-linejoin="miter"/><path d="M347.1,724.1726 L351.3274,728.4 L342.87260000000003,728.4 Z" fill="#a80a3c"/><circle cx="335.3" cy="734.8" r="3.8" fill="#fff" stroke="#a80a3c" stroke-width="2.0"/><path d="M307.8,741.4726 L312.0274,745.7 L307.8,749.9274 L303.5726,745.7 Z" fill="#fff" stroke="#a80a3c" stroke-width="1.8" stroke-linejoin="miter"/><path d="M319.1,750.6726 L323.3274,754.9 L319.1,759.1274 L314.87260000000003,754.9 Z" fill="#fff" stroke="#a80a3c" stroke-width="1.8" stroke-linejoin="miter"/><path d="M319.1,750.6726 L323.3274,754.9 L319.1,759.1274 Z" fill="#a80a3c"/><path d="M330.7,751.5726 L334.9274,755.8 L330.7,760.0274 L326.4726,755.8 Z" fill="#fff" stroke="#a80a3c" stroke-width="1.8" stroke-linejoin="miter"/><path d="M330.7,751.5726 L330.7,760.0274 M326.4726,755.8 L334.9274,755.8" stroke="#a80a3c" stroke-width="1.3"/><path d="M341.1,751.25 L345.1,754.9 L341.1,758.55 L337.1,754.9 Z" fill="#a80a3c"/><rect x="348.09999999999997" y="749.0" width="6.6000000000000005" height="6.6000000000000005" fill="#fff" stroke="#a80a3c" stroke-width="1.8"/><rect x="351.4" y="749.0" width="3.3000000000000003" height="6.6000000000000005" fill="#a80a3c"/><rect x="359.0" y="741.2" width="6.6000000000000005" height="6.6000000000000005" fill="#fff" stroke="#a80a3c" stroke-width="1.8"/><path d="M359.0,741.2 L365.6,747.8 M365.6,741.2 L359.0,747.8" stroke="#a80a3c" stroke-width="1.6"/><path d="M318,772.0726 L322.2274,776.3 L318,780.5274 L313.7726,776.3 Z" fill="#fff" stroke="#a80a3c" stroke-width="1.8" stroke-linejoin="miter"/><circle cx="318" cy="776.3" r="1.2" fill="#a80a3c"/><rect x="349.4" y="773.4000000000001" width="6.6000000000000005" height="6.6000000000000005" fill="#fff" stroke="#a80a3c" stroke-width="1.8"/><circle cx="329.8" cy="785.3" r="3.8" fill="#fff" stroke="#a80a3c" stroke-width="2.0"/><path d="M329.8,781.5 A3.8,3.8 0 0 1 329.8,789.0999999999999 Z" fill="#a80a3c"/><circle cx="341.6" cy="785.3" r="3.8" fill="#fff" stroke="#a80a3c" stroke-width="2.0"/><path d="M337.8,785.3 A3.8,3.8 0 0 1 345.40000000000003,785.3 Z" fill="#a80a3c"/><circle cx="322.9" cy="792.3" r="3.8" fill="#fff" stroke="#a80a3c" stroke-width="2.0"/><path d="M322.9,788.5 A3.8,3.8 0 0 0 322.9,796.0999999999999 Z" fill="#a80a3c"/><circle cx="347.1" cy="798.5" r="3.1" fill="#a80a3c"/><path d="M335.9,800.6726 L340.12739999999997,804.9 L335.9,809.1274 L331.6726,804.9 Z" fill="#fff" stroke="#a80a3c" stroke-width="1.8" stroke-linejoin="miter"/><path d="M335.9,800.6726 L331.6726,804.9 L335.9,809.1274 Z" fill="#a80a3c"/><rect x="122.5" y="774.0" width="32" height="4.000000000000091" fill="#fff"/><path d="M121.2,773.3 H155.8 M121.2,778.7 H155.8 M138.5,773.3 V778.7" stroke="#000" stroke-width="1.5" fill="none"/><path d="M105.7,776.1 H171.3" stroke="#000" stroke-width="1.9" fill="none"/><path d="M219.7,732 H254.3 M219.7,748.7 H254.3 M237,732 V748.7" stroke="#000" stroke-width="1.5" fill="none"/><path d="M204.2,740.6 H269.8" stroke="#000" stroke-width="1.9" fill="none"/><path d="M318.0,724.6 H352.6 M318.0,744.5 H352.6 M335.3,724.6 V744.5" stroke="#000" stroke-width="1.5" fill="none"/><path d="M302.5,734.7 H368.1" stroke="#000" stroke-width="1.9" fill="none"/><path d="M138.5,771.0 L142.8,777.7 L134.2,777.7 Z" fill="#000"/><path d="M147.7,771.0 L152.0,777.7 L143.39999999999998,777.7 Z" fill="#000"/></g>
<g font-family="Liberation Sans, sans-serif" font-size="11.2"><circle cx="399.6" cy="232.8" r="4.55" fill="#000"/><text transform="translate(409.00,236.90) scale(1.02,1)" font-size="11.2">AML1</text><circle cx="399.6" cy="252.65" r="3.8" fill="#fff" stroke="#000" stroke-width="2.0"/><text transform="translate(409.00,256.75) scale(1.02,1)" font-size="11.2">AML2</text><circle cx="399.6" cy="272.5" r="3.8" fill="#fff" stroke="#000" stroke-width="2.0"/><path d="M395.8,272.5 A3.8,3.8 0 0 1 403.40000000000003,272.5 Z" fill="#000"/><text transform="translate(409.00,276.60) scale(1.02,1)" font-size="11.2">AML3</text><circle cx="399.6" cy="292.35" r="3.8" fill="#fff" stroke="#000" stroke-width="2.0"/><path d="M395.8,292.35 A3.8,3.8 0 0 0 403.40000000000003,292.35 Z" fill="#000"/><text transform="translate(409.00,296.45) scale(1.02,1)" font-size="11.2">AML4</text><circle cx="399.6" cy="312.2" r="3.8" fill="#fff" stroke="#000" stroke-width="2.0"/><path d="M399.6,308.4 A3.8,3.8 0 0 0 399.6,316.0 Z" fill="#000"/><text transform="translate(409.00,316.30) scale(1.02,1)" font-size="11.2">AML5</text><circle cx="399.6" cy="332.05" r="3.8" fill="#fff" stroke="#000" stroke-width="2.0"/><path d="M399.6,328.25 A3.8,3.8 0 0 1 399.6,335.85 Z" fill="#000"/><text transform="translate(409.00,336.15) scale(1.02,1)" font-size="11.2">AML6</text><circle cx="399.6" cy="351.9" r="3.8" fill="#fff" stroke="#000" stroke-width="2.0"/><circle cx="399.6" cy="351.9" r="1.3" fill="#000"/><text transform="translate(409.00,356.00) scale(1.02,1)" font-size="11.2">AML7</text><circle cx="399.6" cy="371.75" r="3.8" fill="#fff" stroke="#000" stroke-width="2.0"/><path d="M396.86400000000003,369.014 L402.336,374.486 M402.336,369.014 L396.86400000000003,374.486" stroke="#000" stroke-width="1.5"/><text transform="translate(409.00,375.85) scale(1.02,1)" font-size="11.2">AML8</text><rect x="395.40000000000003" y="387.40000000000003" width="8.4" height="8.4" fill="#000"/><text transform="translate(409.00,395.70) scale(1.02,1)" font-size="11.2">AML9</text><rect x="396.3" y="408.15" width="6.6000000000000005" height="6.6000000000000005" fill="#fff" stroke="#000" stroke-width="1.8"/><text transform="translate(409.00,415.55) scale(1.02,1)" font-size="11.2">AML10</text><rect x="396.3" y="428.0" width="6.6000000000000005" height="6.6000000000000005" fill="#fff" stroke="#000" stroke-width="1.8"/><rect x="396.3" y="428.0" width="6.6000000000000005" height="3.3000000000000003" fill="#000"/><text transform="translate(409.00,435.40) scale(1.02,1)" font-size="11.2">AML11</text><rect x="396.3" y="447.84999999999997" width="6.6000000000000005" height="6.6000000000000005" fill="#fff" stroke="#000" stroke-width="1.8"/><rect x="396.3" y="451.15" width="6.6000000000000005" height="3.3000000000000003" fill="#000"/><text transform="translate(409.00,455.25) scale(1.02,1)" font-size="11.2">AML12</text><rect x="396.3" y="467.7" width="6.6000000000000005" height="6.6000000000000005" fill="#fff" stroke="#000" stroke-width="1.8"/><rect x="396.3" y="467.7" width="3.3000000000000003" height="6.6000000000000005" fill="#000"/><text transform="translate(409.00,475.10) scale(1.02,1)" font-size="11.2">AML13</text><rect x="457.0" y="229.5" width="6.6000000000000005" height="6.6000000000000005" fill="#fff" stroke="#000" stroke-width="1.8"/><rect x="460.3" y="229.5" width="3.3000000000000003" height="6.6000000000000005" fill="#000"/><text transform="translate(469.70,236.90) scale(1.02,1)" font-size="11.2">AML14</text><rect x="457.0" y="249.35" width="6.6000000000000005" height="6.6000000000000005" fill="#fff" stroke="#000" stroke-width="1.8"/><rect x="459.1" y="251.45000000000002" width="2.4" height="2.4" fill="#000"/><text transform="translate(469.70,256.75) scale(1.02,1)" font-size="11.2">AML15</text><rect x="457.0" y="269.2" width="6.6000000000000005" height="6.6000000000000005" fill="#fff" stroke="#000" stroke-width="1.8"/><path d="M457.0,269.2 L463.6,275.8 M463.6,269.2 L457.0,275.8" stroke="#000" stroke-width="1.6"/><text transform="translate(469.70,276.60) scale(1.02,1)" font-size="11.2">AML16</text><path d="M460.3,288.70000000000005 L464.3,292.35 L460.3,296.0 L456.3,292.35 Z" fill="#000"/><text transform="translate(469.70,296.45) scale(1.02,1)" font-size="11.2">AML17</text><path d="M460.3,307.9726 L464.5274,312.2 L460.3,316.4274 L456.0726,312.2 Z" fill="#fff" stroke="#000" stroke-width="1.8" stroke-linejoin="miter"/><text transform="translate(469.70,316.30) scale(1.02,1)" font-size="11.2">AML18</text><path d="M460.3,327.8226 L464.5274,332.05 L460.3,336.2774 L456.0726,332.05 Z" fill="#fff" stroke="#000" stroke-width="1.8" stroke-linejoin="miter"/><path d="M460.3,327.8226 L464.5274,332.05 L456.0726,332.05 Z" fill="#000"/><text transform="translate(469.70,336.15) scale(1.02,1)" font-size="11.2">AML19</text><path d="M460.3,347.6726 L464.5274,351.9 L460.3,356.12739999999997 L456.0726,351.9 Z" fill="#fff" stroke="#000" stroke-width="1.8" stroke-linejoin="miter"/><path d="M460.3,356.12739999999997 L464.5274,351.9 L456.0726,351.9 Z" fill="#000"/><text transform="translate(469.70,356.00) scale(1.02,1)" font-size="11.2">AML20</text><path d="M460.3,367.5226 L464.5274,371.75 L460.3,375.9774 L456.0726,371.75 Z" fill="#fff" stroke="#000" stroke-width="1.8" stroke-linejoin="miter"/><path d="M460.3,367.5226 L456.0726,371.75 L460.3,375.9774 Z" fill="#000"/><text transform="translate(469.70,375.85) scale(1.02,1)" font-size="11.2">AML21</text><path d="M460.3,387.37260000000003 L464.5274,391.6 L460.3,395.8274 L456.0726,391.6 Z" fill="#fff" stroke="#000" stroke-width="1.8" stroke-linejoin="miter"/><path d="M460.3,387.37260000000003 L464.5274,391.6 L460.3,395.8274 Z" fill="#000"/><text transform="translate(469.70,395.70) scale(1.02,1)" font-size="11.2">AML22</text><path d="M460.3,407.2226 L464.5274,411.45 L460.3,415.6774 L456.0726,411.45 Z" fill="#fff" stroke="#000" stroke-width="1.8" stroke-linejoin="miter"/><circle cx="460.3" cy="411.45" r="1.2" fill="#000"/><text transform="translate(469.70,415.55) scale(1.02,1)" font-size="11.2">AML23</text><path d="M460.3,427.0726 L464.5274,431.3 L460.3,435.5274 L456.0726,431.3 Z" fill="#fff" stroke="#000" stroke-width="1.8" stroke-linejoin="miter"/><path d="M460.3,427.0726 L460.3,435.5274 M456.0726,431.3 L464.5274,431.3" stroke="#000" stroke-width="1.3"/><text transform="translate(469.70,435.40) scale(1.02,1)" font-size="11.2">AML24</text><circle cx="460.3" cy="451.15" r="3.1" fill="#000"/><text transform="translate(469.70,455.25) scale(1.02,1)" font-size="11.2">AML25</text></g>
<rect x="0.5" y="0.5" width="519" height="840" fill="none" stroke="#000" stroke-width="1.1"/>
</svg>
</body></html>
